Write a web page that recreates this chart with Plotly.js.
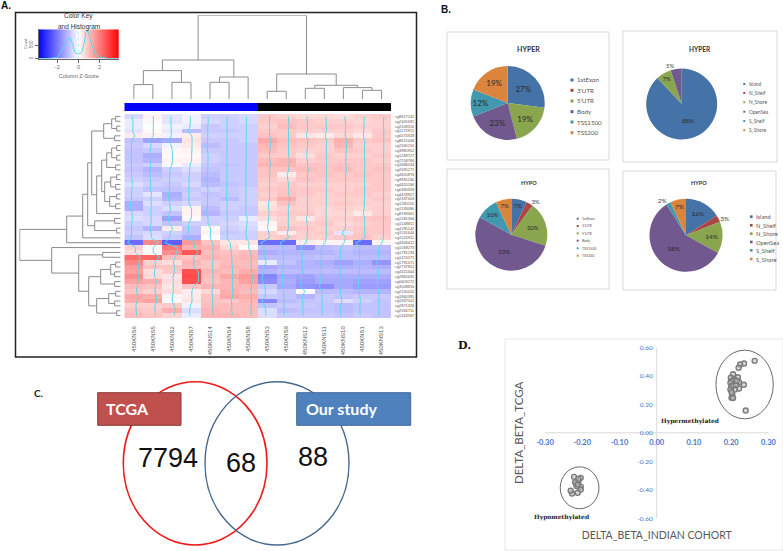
<!DOCTYPE html>
<html>
<head>
<meta charset="utf-8">
<script src="https://cdn.plot.ly/plotly-3.0.1.min.js"></script>
<style>
  html, body { margin: 0; padding: 0; background: #fff; }
  #chart { width: 783px; height: 551px; }
</style>
</head>
<body>
<div id="chart"></div>
<script>
// Panel A - heatmap
const sampleLabels = ["450KNS6","450KNS5","450KNS2","450KNS7","450KNS14","450KNS4","450KNS8","450KNS3","450KNS9","450KNS12","450KNS11","450KNS10","450KNS1","450KNS13"];
const groupColors = [0,0,0,0,0,0,0,1,1,1,1,1,1,1];
const rowLabels = ["cg8617242","cg2405691","cg2509316","cg1175912","cg0574318","cg8621008","cg2330116","cg3985952","cg1269727","cg7158784","cg1686034","cg2695271","cg4605876","cg9935230","cg4420184","cg0366359","cg4418927","cg2337403","cg1280105","cg1533080","cg8769461","cg1585306","cg1548811","cg4785142","cg1531644","cg1520911","cg3308412","cg1569273","cg1791294","cg1474271","cg1791471","cg2737851","cg4321644","cg2860635","cg0603272","cg3508816","cg2105410","cg1860395","cg1937541","cg2871326","cg2584711","cg1343587"];
const heatZ = [
  [-.6,.2,-.4,-.2,-.7,-.7,-.6,.8,.7,.6,.6,.5,.7,.8],
  [-.3,.1,-.4,-.2,-.6,-.7,-.6,.8,.9,.8,.7,.7,.6,.7],
  [-.3,0,-.2,-.3,-.8,-.7,-.7,.7,1,.8,.8,.8,.7,.7],
  [-.4,.1,-.3,-1,-.8,-.8,-.7,.8,.8,.7,.7,.7,.6,.8],
  [.3,.2,-.2,.3,-.7,-.7,-.7,.9,.8,.4,.3,.6,.35,.8],
  [-.9,-1.4,-1.3,.4,-.8,-.8,-.7,1.3,1,.9,.8,1.2,.8,.9],
  [-.8,-.6,-.2,.3,-1,-.8,-.8,1.1,.9,.8,.7,1.1,.7,.7],
  [-.9,-.8,.1,.2,-.8,-.8,-.8,1,.8,.7,.7,.9,.8,.7],
  [-.9,-1.2,.1,.1,-.7,-.8,-.8,.8,.8,.5,.8,.7,.7,.8],
  [-.9,-1.1,.2,.2,-.7,-.8,-.8,1,1.1,.7,.8,.8,.8,.7],
  [-.8,-.7,-.1,-.3,-.8,-.9,-.8,1.1,1.1,.9,.9,.9,.8,.8],
  [-.9,-1.1,-.7,-.5,-.9,-.8,-.8,.9,.9,1,.9,1,.8,.9],
  [-.8,-1,-.8,-.7,-1,-.8,-.8,.9,.3,.8,.9,.8,.9,.8],
  [-.7,-.8,-.7,-.7,-1.1,-.8,-.8,.8,.6,.9,.8,.8,.8,.8],
  [-.5,-.7,-.8,-.6,-1,-.9,-.8,.7,.8,.7,.7,.7,.7,.8],
  [-.7,-.9,-.9,-.8,-.7,-.8,-.7,.8,.9,.8,.8,.7,.8,.8],
  [-.7,-.4,-1.2,-.7,-.9,-.8,-.7,.7,.9,.8,.7,.8,.8,.7],
  [-.8,-.7,-1.1,-.8,-.8,-1,-.7,.8,1.2,.7,.7,.7,.7,.8],
  [-1.2,-.5,-.7,-.6,-.8,-.7,-.7,.4,.9,.7,.7,.8,.7,.7],
  [-1.2,-.7,-.5,.2,-1,-.7,-.8,.5,.7,.7,.6,.7,.6,.7],
  [-.6,-.7,-.9,.2,-1.1,-.8,-.8,.7,.8,.8,.6,.6,.35,.7],
  [-.5,-.6,-1.4,.1,-.7,-.7,-.3,.5,.7,.4,.7,.7,.8,.9],
  [-.7,-.6,-.9,-.7,-.7,-.6,-.5,.2,.7,.7,.8,.6,.7,.8],
  [-.8,-1.1,.3,-.9,.1,-.7,-.6,.1,.9,.8,.7,.7,.8,.8],
  [-.7,-.6,-.7,-.9,.2,-.8,-.7,.7,.3,.7,.8,-.4,.8,.8],
  [-.9,-.5,-.8,-1.2,0,-.7,-.7,.7,.8,.7,.7,.8,.9,.7],
  [-2.2,1.8,-2.4,1.5,.9,.4,.4,-2.2,-2.2,.3,.2,.2,-2.2,.2],
  [.7,.1,2,1.2,1.1,.6,.1,-1,-1,-1.6,-1,-.9,-1,-1],
  [.5,.1,1.7,2.5,1,.9,1,-1.2,-1.1,-1.1,-1.1,-1,-1.1,-1.1],
  [2.2,2.3,1,.9,1.1,1,1.1,-1,-1,-1,-.9,-1,-1,-1],
  [1.8,.7,.5,1.1,.9,1,1,-.3,-.9,-1.1,-1.2,-1.4,-1.2,-1.6],
  [1.5,.9,.9,1,.9,1.1,1,-1.3,-1.1,-1.1,-1.1,-1.2,-1.1,-1.2],
  [1.4,.5,.8,2.6,1.1,1,1.2,-1.1,-1,-1,-1,-1,-1,-1],
  [1.7,.6,.4,2.7,1,1.3,1.5,-1.8,-1.3,-1.4,-1.2,-1.2,-1.2,-1.2],
  [1.4,1.2,.5,2.6,.9,1.1,1.4,-1.7,-1.2,-1.5,-1.3,-1.3,-1.4,-1.4],
  [1,.9,.4,.9,1.1,1.1,1.1,-.8,-1.3,-1.6,-1.7,-1.3,-1.5,-1.5],
  [.9,.7,.5,.3,.6,1.2,1,-.6,-.9,-.1,-1,-1,-1.1,-1.1],
  [1.3,1.2,.2,.3,.9,1.3,1.2,-.8,-.9,-1.1,-.8,-.9,-.8,-.8],
  [1.2,1.4,.1,.4,.9,.8,1.1,-1.8,-1,-.9,-.8,-.5,-.7,-.9],
  [.7,.7,.8,-.2,1,1,1,-.9,-.8,-.8,-.9,-1,-.9,-.9],
  [.9,.8,1.2,-.5,1.1,1,1,-.5,-1,-.9,-.9,-1,-.9,-.9],
  [1,.9,.7,-.3,1.1,1.1,1,-.5,-.8,-.8,-.8,-.9,-.8,-.9]
];

// dendrogram merges: [child, child, height]; child >= 0 is a leaf, child < 0 is merge number -child
const colMerges = [[0,1,14.7],[2,3,17],[4,5,17],[-3,6,22.3],[-1,-2,28.7],[-5,-4,39.3],[7,8,8],[9,10,11],[12,13,9],[11,-9,11.7],[-8,-10,14],[-7,-11,25.3],[-6,-12,84]];
const rowMerges = [[0,1,5],[2,3,4],[-1,-2,9],[4,5,6],[-3,-4,17],[6,7,4],[8,9,4],[-6,-7,9],[10,11,5],[-8,-9,14],[12,13,4],[14,15,5],[-11,-12,10],[16,17,4],[18,19,5],[-14,-15,11],[-13,-16,16],[-10,-17,19],[-18,20,24],[-5,-19,29],[21,22,6],[23,24,4],[-21,-22,26],[-20,-23,33],[-24,25,38],[-25,26,54],[28,29,18],[30,31,5],[32,33,6],[-28,-29,10],[34,35,6],[-30,-31,20],[36,37,5],[38,39,6],[-33,-34,12],[40,41,4],[-35,-36,24],[-32,-37,32],[-27,-38,42],[27,-39,69],[-26,-40,101]];

// Color key histogram
const keyX = [-3.7,-2.65,-1.98,-1.57,-1.10,-0.79,-0.57,-0.31,0,0.31,0.53,0.72,0.94,1.16,1.57,1.98,2.99,3.8];
const keyCount = [0,12,50,320,620,780,560,220,170,220,560,990,990,620,200,50,0,0];
const keyScale = [-3.8,3.8];

// Panel B - pies
const regionLabels = ["1stExon","3'UTR","5'UTR","Body","TSS1500","TSS200"];
const islandLabels = ["Island","N_Shelf","N_Shore","OpenSea","S_Shelf","S_Shore"];
const hyperRegion = [27,0,19,23,12,19];
const hyperIsland = [88,0,7,5,0,0];
const hypoRegion = [7,3,20,53,10,7];
const hypoIsland = [16,3,14,58,2,7];
const pieColors = ["#4572a7","#aa4643","#89a54e","#71588f","#4198af","#db843d"];

// Panel C - venn counts
const vennCounts = [7794,68,88];
const vennNames = ["TCGA","Our study"];

// Panel D - scatter
const hyperX = [.263,.2345,.224,.22,.205,.218,.199,.208,.221,.202,.234,.221,.21,.198,.2,.198,.206,.213,.203,.201,.205,.201,.239,.215];
const hyperY = [.505,.486,.479,.456,.411,.39,.386,.374,.355,.365,.337,.311,.304,.351,.327,.304,.332,.337,.269,.246,.244,.285,.156,.365];
const hypoX = [-.222,-.204,-.21,-.217,-.204,-.204,-.212,-.227,-.231,-.215,-.219,-.21,-.212];
const hypoY = [-.309,-.316,-.339,-.355,-.379,-.398,-.421,-.426,-.407,-.374,-.346,-.323,-.363];
const xTicks = [-.3,-.2,-.1,0,.1,.2,.3];
const yTicks = [.6,.4,.2,0,-.2,-.4,-.6];

const W = 783, H = 551;
const domX = (a, b) => [a / W, b / W];
const domY = (top, bottom) => [1 - bottom / H, 1 - top / H];
const heatScale = [[0, "#0000ff"], [0.5, "#ffffff"], [1, "#ff0000"]];
const sans = "Liberation Sans, Arial, sans-serif";
const lato = "Lato, sans-serif";
const serif = "DejaVu Serif, serif";

// Walk the merges and return line coordinates (position, height)
function dendroLines(merges) {
    const pos = [], hgt = [];
    const lineP = [], lineH = [];
    const childPos = c => c >= 0 ? c : pos[-c - 1];
    const childH = c => c >= 0 ? 0 : hgt[-c - 1];
    merges.forEach(([a, b, h], i) => {
        pos[i] = (childPos(a) + childPos(b)) / 2;
        hgt[i] = h;
        lineP.push(childPos(a), childPos(a), childPos(b), childPos(b), null);
        lineH.push(childH(a), h, h, childH(b), null);
    });
    return { lineP, lineH };
}

function note(x, y, text, size, color, family, extra) {
    return Object.assign({
        xref: "paper", yref: "paper", x: x / W, y: 1 - y / H, text: text,
        showarrow: false, xanchor: "center", yanchor: "middle",
        font: { size: size, color: color || "#333", family: family || lato }
    }, extra || {});
}

function rectShape(x0, y0, x1, y1, line, fill, layer) {
    return {
        type: "rect", xref: "paper", yref: "paper", layer: layer || "below",
        x0: x0 / W, x1: x1 / W, y0: 1 - y0 / H, y1: 1 - y1 / H,
        line: line, fillcolor: fill || "rgba(0,0,0,0)"
    };
}

const traces = [];

// heatmap and its per-column trace lines
traces.push({
    type: "heatmap", z: heatZ, xaxis: "x", yaxis: "y",
    colorscale: heatScale, zmin: -3.8, zmax: 3.8, showscale: false, hoverinfo: "skip"
});
sampleLabels.forEach((s, c) => {
    traces.push({
        type: "scatter", mode: "lines", xaxis: "x", yaxis: "y", showlegend: false, hoverinfo: "skip",
        x: heatZ.map(row => c + row[c] * 0.15),
        y: heatZ.map((row, r) => r),
        line: { color: "#58dbe6", width: 1 }
    });
});

// dendrograms
const colD = dendroLines(colMerges);
traces.push({
    type: "scatter", mode: "lines", xaxis: "x2", yaxis: "y2", hoverinfo: "skip",
    x: colD.lineP, y: colD.lineH, line: { color: "#8e8e8e", width: 1 }, connectgaps: false
});
const rowD = dendroLines(rowMerges);
traces.push({
    type: "scatter", mode: "lines", xaxis: "x3", yaxis: "y3", hoverinfo: "skip",
    x: rowD.lineH, y: rowD.lineP, line: { color: "#8a8a8a", width: 1 }, connectgaps: false
});

// group colour bar
traces.push({
    type: "heatmap", z: [groupColors], xaxis: "x4", yaxis: "y4", hoverinfo: "skip",
    colorscale: [[0, "#0000ff"], [1, "#000000"]], showscale: false
});

// color key
traces.push({
    type: "heatmap", x: keyScale, y: [0, 1100], z: [keyScale, keyScale], xaxis: "x5", yaxis: "y5",
    zsmooth: "best", colorscale: heatScale, zmin: -3.8, zmax: 3.8, showscale: false, hoverinfo: "skip"
});
traces.push({
    type: "scatter", mode: "lines", x: keyX, y: keyCount, xaxis: "x5", yaxis: "y5", hoverinfo: "skip",
    line: { color: "#58dbe6", width: 1 }
});
traces.push({
    type: "scatter", mode: "lines", x: [0, 0], y: [0, 1073], xaxis: "x5", yaxis: "y5", hoverinfo: "skip",
    line: { color: "#b5eef3", width: 1, dash: "dot" }
});

// pies
function addPie(values, labels, cx, cy, r, size, outside) {
    traces.push({
        type: "pie", values: values, labels: labels, sort: false, direction: "clockwise", rotation: 0,
        domain: { x: domX(cx - r, cx + r), y: domY(cy - r, cy + r) },
        marker: { colors: pieColors },
        text: values.map(v => v ? v + "%" : ""),
        textinfo: "text",
        textposition: values.map((v, i) => outside.includes(i) ? "outside" : "inside"),
        insidetextorientation: "horizontal",
        insidetextfont: { size: size, color: "#2b2b2b", family: lato },
        outsidetextfont: { size: size, color: "#444", family: lato },
        showlegend: false, hoverinfo: "skip", automargin: false
    });
}
addPie(hyperRegion, regionLabels, 507.7, 103, 37, 8, []);
addPie(hyperIsland, islandLabels, 681.7, 104, 35.5, 6, [3]);
addPie(hypoRegion, regionLabels, 511.3, 234.7, 36, 6, [1]);
addPie(hypoIsland, islandLabels, 686, 235.3, 36.5, 6.5, [1, 4]);

// scatter panel D
traces.push({
    type: "scatter", mode: "lines", x: [xTicks[0], xTicks[6]], y: [0, 0], xaxis: "x6", yaxis: "y6",
    line: { color: "#d9d9d9", width: 1 }, hoverinfo: "skip"
});
traces.push({
    type: "scatter", mode: "lines", x: [0, 0], y: [yTicks[6], yTicks[0]], xaxis: "x6", yaxis: "y6",
    line: { color: "#d9d9d9", width: 1 }, hoverinfo: "skip"
});
[[hyperX, hyperY], [hypoX, hypoY]].forEach(([xs, ys]) => {
    traces.push({
        type: "scatter", mode: "markers", x: xs, y: ys, xaxis: "x6", yaxis: "y6", hoverinfo: "skip",
        marker: { size: 5, color: "rgba(190,190,190,0.6)", line: { color: "#7b7b7b", width: 1.4 } }
    });
});

const shapes = [
    // panel A frame
    rectShape(15.5, 12.5, 416.5, 357, { color: "#222", width: 1.5 }),
    // panel B frames
    rectShape(447, 32, 609, 160, { color: "#d9d9d9", width: 1 }),
    rectShape(623, 31, 777, 162, { color: "#d9d9d9", width: 1 }),
    rectShape(447, 169, 609, 289, { color: "#d9d9d9", width: 1 }),
    rectShape(623, 171, 776, 290, { color: "#d9d9d9", width: 1 }),
    // panel D frame
    rectShape(505, 339, 783, 550, { color: "#e6e6e6", width: 1 }),
    // venn
    { type: "circle", xref: "paper", yref: "paper", layer: "below", x0: 123.3 / W, x1: 267 / W, y0: 1 - 381.7 / H, y1: 1 - 545 / H, line: { color: "#f01a1a", width: 1.6 } },
    { type: "circle", xref: "paper", yref: "paper", layer: "below", x0: 205 / W, x1: 349 / W, y0: 1 - 381.7 / H, y1: 1 - 545 / H, line: { color: "#44688f", width: 1.4 } },
    rectShape(97.7, 392.7, 181, 425.3, { color: "#8c3836", width: 1 }, "#c0504d"),
    rectShape(296.7, 392.7, 410.7, 425.3, { color: "#3f6a9c", width: 1 }, "#4f81bd"),
    // scatter ellipses, in data units
    { type: "circle", xref: "x6", yref: "y6", layer: "above", x0: .159, x1: .313, y0: .098, y1: .58, line: { color: "#444", width: 0.8 } },
    { type: "circle", xref: "x6", yref: "y6", layer: "above", x0: -.259, x1: -.155, y0: -.533, y1: -.239, line: { color: "#444", width: 0.8 } }
];

const annotations = [
    note(6, 5, "A.", 10, "#111", sans, { font: { size: 10, color: "#111", family: sans, weight: 700 } }),
    note(446, 10, "B.", 10, "#111", sans, { font: { size: 10, color: "#111", family: sans, weight: 700 } }),
    note(38, 393, "C.", 10, "#222", lato, { font: { size: 10, color: "#222", family: lato, weight: 700 } }),
    note(464, 346, "D.", 11, "#111", serif, { font: { size: 11, color: "#111", family: serif, weight: 700 } }),
    note(78.7, 16, "Color Key", 6.5, "#333", sans),
    note(78.7, 26.7, "and Histogram", 6.5, "#333", sans),
    note(528, 49, "<b>HYPER</b>", 7, "#333"),
    note(699.7, 49.7, "<b>HYPER</b>", 6.5, "#333"),
    note(528.7, 183, "<b>HYPO</b>", 5.5, "#333"),
    note(699.3, 183.3, "<b>HYPO</b>", 5.5, "#333"),
    note(104, 408.3, "<b>" + vennNames[0] + "</b>", 16, "#fff", lato, { xanchor: "left" }),
    note(304, 408.3, "<b>" + vennNames[1] + "</b>", 16, "#fff", lato, { xanchor: "left" }),
    note(168.3, 458.3, String(vennCounts[0]), 27, "#111", sans),
    note(240.7, 463.3, String(vennCounts[1]), 27, "#111", sans),
    note(312.7, 457.3, String(vennCounts[2]), 27, "#111", sans),
    note(690.7, 420.7, "<b>Hypermethylated</b>", 6, "#222", serif),
    note(562.3, 516.7, "<b>Hypomethylated</b>", 6, "#222", serif)
];

// hand-made legends for the four pies
function addLegend(labels, swX, ys, size, sw) {
    labels.forEach((label, i) => {
        shapes.push(rectShape(swX - sw / 2, ys[i] - sw / 2, swX + sw / 2, ys[i] + sw / 2, { width: 0 }, pieColors[i]));
        annotations.push(note(swX + sw / 2 + 1.5, ys[i], label, size, "#555", lato, { xanchor: "left" }));
    });
}
addLegend(regionLabels, 572, [80, 90.3, 101, 111.7, 122, 132.7], 6.2, 3);
addLegend(islandLabels, 744.3, [84, 93, 102.3, 111.7, 121, 130.3], 4.8, 2);
addLegend(regionLabels, 577.7, [218.7, 226, 233.3, 240.7, 248.3, 255.7], 3.6, 2);
addLegend(islandLabels, 751.3, [216.7, 225.3, 233.7, 242, 250.3, 259], 5.8, 2.6);

const hidden = { visible: false, fixedrange: true };
const layout = {
    width: W, height: H,
    margin: { l: 0, r: 0, t: 0, b: 0 },
    paper_bgcolor: "#fff", plot_bgcolor: "rgba(0,0,0,0)",
    showlegend: false,
    shapes: shapes,
    annotations: annotations,
    xaxis: {
        domain: domX(124.3, 391), range: [-0.5, 13.5], showgrid: false, zeroline: false,
        tickmode: "array", tickvals: sampleLabels.map((s, i) => i), ticktext: sampleLabels,
        tickangle: -90, ticks: "", ticklabelstandoff: 6,
        tickfont: { size: 6, color: "#555", family: sans }
    },
    yaxis: {
        domain: domY(114, 318), range: [41.5, -0.5], side: "right", showgrid: false, zeroline: false,
        tickmode: "array", tickvals: rowLabels.map((s, i) => i), ticktext: rowLabels,
        ticks: "", ticklabelstandoff: 3,
        tickfont: { size: 3.9, color: "#555", family: sans }
    },
    xaxis2: Object.assign({ domain: domX(124.3, 391), range: [-0.5, 13.5], anchor: "y2" }, hidden),
    yaxis2: Object.assign({ domain: domY(15.3, 99.3), range: [0, 84], anchor: "x2" }, hidden),
    xaxis3: Object.assign({ domain: domX(19.3, 120.7), range: [101.4, 0], anchor: "y3" }, hidden),
    yaxis3: Object.assign({ domain: domY(114, 318), range: [41.5, -0.5], anchor: "x3" }, hidden),
    xaxis4: Object.assign({ domain: domX(124.3, 391), range: [-0.5, 13.5], anchor: "y4" }, hidden),
    yaxis4: Object.assign({ domain: domY(103, 111), range: [-0.5, 0.5], anchor: "x4" }, hidden),
    xaxis5: {
        domain: domX(38.7, 119), range: [-3.75, 3.83], anchor: "y5", showgrid: false, zeroline: false,
        tickmode: "array", tickvals: [-2, 0, 2], ticktext: ["-2", "0", "2"], ticks: "outside", ticklen: 3, tickwidth: 0.6, tickcolor: "#666",
        showline: true, linecolor: "#666", linewidth: 0.6,
        tickfont: { size: 5.5, color: "#666", family: sans },
        title: { text: "Column Z-Score", font: { size: 5.5, color: "#666", family: sans }, standoff: 5 }
    },
    yaxis5: {
        domain: domY(29.3, 58.7), range: [0, 1073], anchor: "x5", showgrid: false, zeroline: false,
        tickmode: "array", tickvals: [0, 500], ticktext: ["0", "500"], tickangle: -90, ticks: "outside", ticklen: 3, tickwidth: 0.6, tickcolor: "#666",
        showline: true, linecolor: "#666", linewidth: 0.6,
        tickfont: { size: 4.5, color: "#666", family: sans },
        title: { text: "Count", font: { size: 4, color: "#666", family: sans }, standoff: 1 }
    },
    xaxis6: {
        domain: domX(533.8, 779.6), range: [-0.33, 0.33], anchor: "free", position: 1 - 433.3 / H,
        showgrid: false, zeroline: false, showline: false, ticks: "",
        tickmode: "array", tickvals: xTicks, ticktext: xTicks.map(v => v.toFixed(2)), ticklabelstandoff: 3,
        tickfont: { size: 7.5, color: "#4a76c6", family: lato, weight: 700 },
        title: { text: "DELTA_BETA_INDIAN COHORT", font: { size: 10.5, color: "#595959", family: lato }, standoff: 85 }
    },
    yaxis6: {
        domain: domY(347.3, 518.3), range: [-0.6, 0.6], anchor: "free", position: 656.7 / W,
        showgrid: false, zeroline: false, showline: false, ticks: "",
        tickmode: "array", tickvals: yTicks, ticktext: yTicks.map(v => v.toFixed(2)), ticklabelstandoff: 4,
        tickfont: { size: 6.5, color: "#4a76c6", family: lato },
        title: { text: "DELTA_BETA_TCGA", font: { size: 11.5, color: "#595959", family: lato }, standoff: 110 }
    }
};

Plotly.newPlot("chart", traces, layout, { displayModeBar: false, responsive: false });
</script>
</body>
</html>
